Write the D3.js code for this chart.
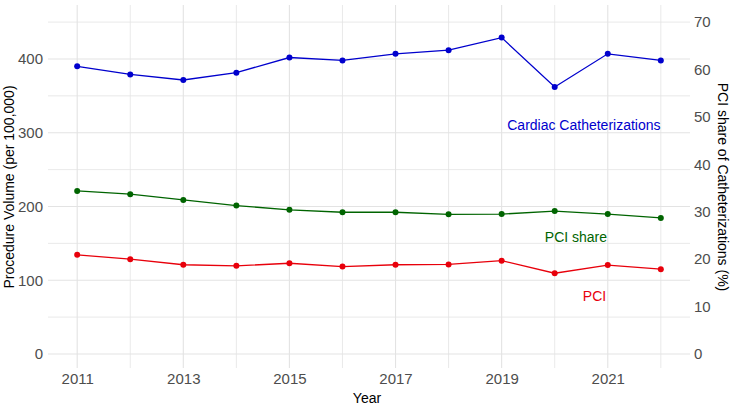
<!DOCTYPE html>
<html>
<head>
<meta charset="utf-8">
<script src="https://cdn.jsdelivr.net/npm/d3@7"></script>
<style>
  body { margin: 0; background: #fff; }
  text { font-family: "Liberation Sans", Arial, sans-serif; }
</style>
</head>
<body>
<div id="chart"></div>
<script>
// data
var years = [2011, 2012, 2013, 2014, 2015, 2016, 2017, 2018, 2019, 2020, 2021, 2022];
var cathVolume = [390, 379, 371.5, 381.5, 402, 398, 407, 412, 429, 362, 407, 398];
var pciVolume = [134.5, 128.5, 121, 119.5, 123, 118.5, 121, 121.5, 126.5, 109.5, 120.5, 115];
var pciShare = [34.4, 33.7, 32.5, 31.3, 30.4, 29.9, 29.9, 29.45, 29.5, 30.15, 29.5, 28.7];
var xTicks = [2011, 2013, 2015, 2017, 2019, 2021];
var leftTicks = [0, 100, 200, 300, 400];
var rightTicks = [0, 10, 20, 30, 40, 50, 60, 70];
var shareToVolume = 450 / 70; // secondary axis transform

var w = 733, h = 409;
var panelLeft = 48, panelRight = 690, panelTop = 5, panelBottom = 368;

var svg = d3.select("#chart").append("svg")
    .attr("width", w)
    .attr("height", h);

//scales
var x = d3.scaleLinear()
    .domain([2011 - 0.55, 2022 + 0.55])
    .range([panelLeft, panelRight]);

var y = d3.scaleLinear()
    .domain([-19, 473.2])
    .range([panelBottom, panelTop]);

var yRight = d3.scaleLinear()
    .domain([-19 / shareToVolume, 473.2 / shareToVolume])
    .range([panelBottom, panelTop]);

var gridColor = "#e3e3e3";

//gridlines, minor then major
var minorY = d3.range(50, 451, 100);
svg.append("g").selectAll("line")
    .data(minorY)
    .enter().append("line")
    .attr("x1", panelLeft).attr("x2", panelRight)
    .attr("y1", function (d) { return y(d); })
    .attr("y2", function (d) { return y(d); })
    .attr("stroke", gridColor).attr("stroke-width", 0.8);

svg.append("g").selectAll("line")
    .data(leftTicks)
    .enter().append("line")
    .attr("x1", panelLeft).attr("x2", panelRight)
    .attr("y1", function (d) { return y(d); })
    .attr("y2", function (d) { return y(d); })
    .attr("stroke", gridColor).attr("stroke-width", 1.1);

svg.append("g").selectAll("line")
    .data(years)
    .enter().append("line")
    .attr("x1", function (d) { return x(d); })
    .attr("x2", function (d) { return x(d); })
    .attr("y1", panelTop).attr("y2", panelBottom)
    .attr("stroke", gridColor)
    .attr("stroke-width", function (d) { return d % 2 ? 1.1 : 0.8; });

//axes
var xAxis = d3.axisBottom(x).tickValues(xTicks).tickFormat(d3.format("d")).tickSize(0).tickPadding(5);
var yAxis = d3.axisLeft(y).tickValues(leftTicks).tickSize(0).tickPadding(5);
var yAxisRight = d3.axisRight(yRight).tickValues(rightTicks).tickSize(0).tickPadding(4);

function styleAxis(g) {
    g.attr("font-family", null).attr("font-size", null);
    g.select(".domain").remove();
    g.selectAll("text")
        .style("font-size", "15px")
        .attr("fill", "#4d4d4d");
}

svg.append("g")
    .attr("transform", "translate(0," + panelBottom + ")")
    .call(xAxis)
    .call(styleAxis);

svg.append("g")
    .attr("transform", "translate(" + panelLeft + ",0)")
    .call(yAxis)
    .call(styleAxis);

svg.append("g")
    .attr("transform", "translate(" + panelRight + ",0)")
    .call(yAxisRight)
    .call(styleAxis);

//axis titles
svg.append("text")
    .attr("x", 367).attr("y", 403)
    .attr("text-anchor", "middle")
    .style("font-size", "14px")
    .text("Year");

svg.append("text")
    .attr("transform", "translate(14," + 187 + ") rotate(-90)")
    .attr("text-anchor", "middle")
    .style("font-size", "14px")
    .text("Procedure Volume (per 100,000)");

svg.append("text")
    .attr("transform", "translate(718," + 187 + ") rotate(90)")
    .attr("text-anchor", "middle")
    .style("font-size", "14px")
    .text("PCI share of Catheterizations (%)");

//series
var series = [
    { name: "Cardiac Catheterizations", values: cathVolume, color: "#0000CD", lx: 2020.55, ly: 310 },
    { name: "PCI share", values: pciShare.map(function (v) { return v * shareToVolume; }), color: "#006400", lx: 2020.4, ly: 158 },
    { name: "PCI", values: pciVolume, color: "#E8000B", lx: 2020.75, ly: 78 }
];

var line = d3.line()
    .x(function (d) { return x(d[0]); })
    .y(function (d) { return y(d[1]); });

series.forEach(function (s) {
    var pts = years.map(function (yr, i) { return [yr, s.values[i]]; });

    svg.append("path")
        .datum(pts)
        .attr("d", line)
        .attr("fill", "none")
        .attr("stroke", s.color)
        .attr("stroke-width", 1.3);

    svg.append("g").selectAll("circle")
        .data(pts)
        .enter().append("circle")
        .attr("cx", function (d) { return x(d[0]); })
        .attr("cy", function (d) { return y(d[1]); })
        .attr("r", 3)
        .attr("fill", s.color);

    svg.append("text")
        .attr("x", x(s.lx))
        .attr("y", y(s.ly))
        .attr("dy", "0.35em")
        .attr("text-anchor", "middle")
        .attr("fill", s.color)
        .style("font-size", "14px")
        .text(s.name);
});
</script>
</body>
</html>
